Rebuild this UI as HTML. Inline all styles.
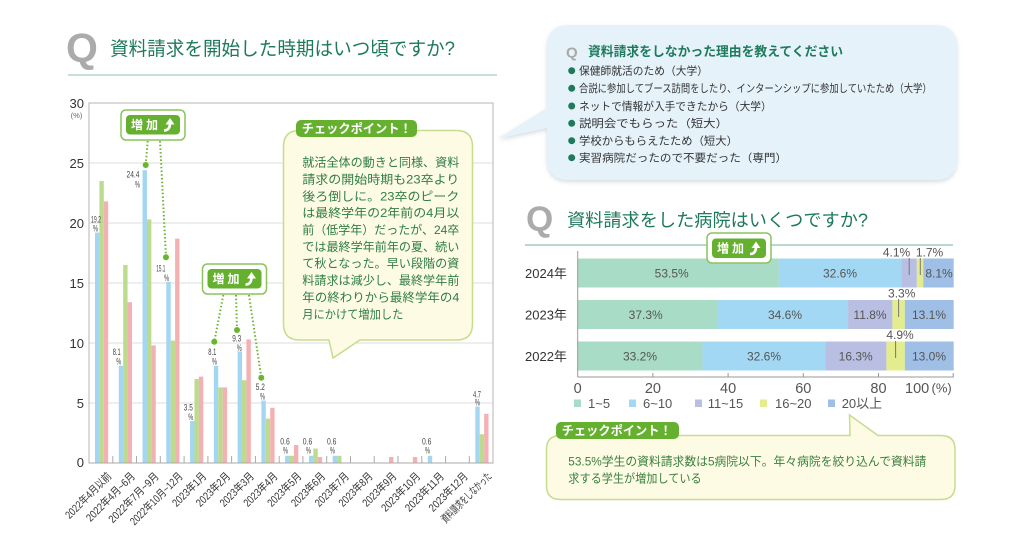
<!DOCTYPE html>
<html><head><meta charset="utf-8"><style>
html,body{margin:0;padding:0;background:#fff;}
svg{display:block;}
text{font-family:"Liberation Sans","Noto Sans CJK JP",sans-serif;}
</style></head><body>
<svg width="1024" height="533" viewBox="0 0 1024 533" xmlns="http://www.w3.org/2000/svg">
<defs>
<filter id="sh" x="-5%" y="-5%" width="110%" height="120%"><feDropShadow dx="0" dy="2" stdDeviation="2" flood-color="#8a9aa5" flood-opacity="0.35"/></filter>
</defs>
<rect width="1024" height="533" fill="#fff"/>

<!-- LEFT TITLE -->
<text x="66" y="62" font-size="41" font-weight="bold" fill="#ababab">Q</text>
<text x="110" y="55" font-size="19" fill="#1f7a5c" textLength="345" lengthAdjust="spacingAndGlyphs">資料請求を開始した時期はいつ頃ですか?</text>
<line x1="68" y1="75" x2="497" y2="75" stroke="#a9cdbf" stroke-width="1.2"/>

<!-- LEFT CHART GRID -->
<g stroke="#dcdcdc" stroke-width="1">
<line x1="89" y1="163" x2="493" y2="163"/>
<line x1="89" y1="223" x2="493" y2="223"/>
<line x1="89" y1="283" x2="493" y2="283"/>
<line x1="89" y1="343" x2="493" y2="343"/>
<line x1="89" y1="403" x2="493" y2="403"/>
</g>
<rect x="89" y="103" width="404" height="360" fill="none" stroke="#b5b5b5" stroke-width="1"/>
<g stroke="#aaa" stroke-width="1">
<line x1="112.8" y1="456" x2="112.8" y2="463"/><line x1="136.5" y1="456" x2="136.5" y2="463"/><line x1="160.3" y1="456" x2="160.3" y2="463"/><line x1="184.1" y1="456" x2="184.1" y2="463"/><line x1="207.9" y1="456" x2="207.9" y2="463"/><line x1="231.6" y1="456" x2="231.6" y2="463"/><line x1="255.4" y1="456" x2="255.4" y2="463"/><line x1="279.2" y1="456" x2="279.2" y2="463"/><line x1="302.9" y1="456" x2="302.9" y2="463"/><line x1="326.7" y1="456" x2="326.7" y2="463"/><line x1="350.5" y1="456" x2="350.5" y2="463"/><line x1="374.2" y1="456" x2="374.2" y2="463"/><line x1="398" y1="456" x2="398" y2="463"/><line x1="421.8" y1="456" x2="421.8" y2="463"/><line x1="445.6" y1="456" x2="445.6" y2="463"/><line x1="469.3" y1="456" x2="469.3" y2="463"/>
</g>

<!-- Y tick labels -->
<g font-size="13" fill="#333" text-anchor="end">
<text x="84" y="108">30</text>
<text x="84" y="168">25</text>
<text x="84" y="228">20</text>
<text x="84" y="288">15</text>
<text x="84" y="348">10</text>
<text x="84" y="408">5</text>
<text x="84" y="467">0</text>
</g>
<text x="76.5" y="118" font-size="7.5" fill="#666" text-anchor="middle">(%)</text>

<!-- BARS: blue -->
<g fill="#a3d6f2">
<rect x="95" y="232.6" width="4.4" height="230.4"/>
<rect x="118.77" y="365.8" width="4.4" height="97.2"/>
<rect x="142.54" y="170.2" width="4.4" height="292.8"/>
<rect x="166.31" y="281.8" width="4.4" height="181.2"/>
<rect x="190.08" y="421" width="4.4" height="42"/>
<rect x="213.85" y="365.8" width="4.4" height="97.2"/>
<rect x="237.62" y="351.4" width="4.4" height="111.6"/>
<rect x="261.39" y="400.6" width="4.4" height="62.4"/>
<rect x="285.16" y="455.8" width="4.4" height="7.2"/>
<rect x="308.93" y="455.8" width="4.4" height="7.2"/>
<rect x="332.7" y="455.8" width="4.4" height="7.2"/>
<rect x="427.78" y="455.8" width="4.4" height="7.2"/>
<rect x="475.32" y="406.6" width="4.4" height="56.4"/>
</g>
<!-- green -->
<g fill="#bddb8c">
<rect x="99.4" y="181" width="4.4" height="282"/>
<rect x="123.17" y="265" width="4.4" height="198"/>
<rect x="146.94" y="219.4" width="4.4" height="243.6"/>
<rect x="170.71" y="340.6" width="4.4" height="122.4"/>
<rect x="194.48" y="379" width="4.4" height="84"/>
<rect x="218.25" y="387.4" width="4.4" height="75.6"/>
<rect x="242.02" y="380.2" width="4.4" height="82.8"/>
<rect x="265.79" y="418.6" width="4.4" height="44.4"/>
<rect x="289.56" y="455.8" width="4.4" height="7.2"/>
<rect x="313.33" y="448.6" width="4.4" height="14.4"/>
<rect x="337.1" y="455.8" width="4.4" height="7.2"/>
<rect x="479.72" y="434.2" width="4.4" height="28.8"/>
</g>
<!-- pink -->
<g fill="#f3b1b3">
<rect x="103.8" y="201.4" width="4.4" height="261.6"/>
<rect x="127.57" y="302.2" width="4.4" height="160.8"/>
<rect x="151.34" y="345.4" width="4.4" height="117.6"/>
<rect x="175.11" y="238.6" width="4.4" height="224.4"/>
<rect x="198.88" y="376.6" width="4.4" height="86.4"/>
<rect x="222.65" y="387.4" width="4.4" height="75.6"/>
<rect x="246.42" y="339.4" width="4.4" height="123.6"/>
<rect x="270.19" y="407.8" width="4.4" height="55.2"/>
<rect x="293.96" y="445" width="4.4" height="18"/>
<rect x="317.73" y="457" width="4.4" height="6"/>
<rect x="389.04" y="457" width="4.4" height="6"/>
<rect x="412.81" y="457" width="4.4" height="6"/>
<rect x="484.12" y="413.8" width="4.4" height="49.2"/>
</g>
<line x1="89" y1="463" x2="493" y2="463" stroke="#aaa" stroke-width="1"/>

<!-- Bar value labels -->
<g font-size="9.5" fill="#444" text-anchor="middle">
<text x="96" y="222.3" textLength="10" lengthAdjust="spacingAndGlyphs">19.2</text><text x="95.5" y="231.5" textLength="5" lengthAdjust="spacingAndGlyphs">%</text>
<text x="116.7" y="355" textLength="8" lengthAdjust="spacingAndGlyphs">8.1</text><text x="118.8" y="364.3" textLength="5" lengthAdjust="spacingAndGlyphs">%</text>
<text x="133" y="177.3" textLength="13" lengthAdjust="spacingAndGlyphs">24.4</text><text x="137.5" y="187.3" textLength="5" lengthAdjust="spacingAndGlyphs">%</text>
<text x="160.8" y="271.6" textLength="9" lengthAdjust="spacingAndGlyphs">15.1</text><text x="166.6" y="281" textLength="5" lengthAdjust="spacingAndGlyphs">%</text>
<text x="188.3" y="410.6" textLength="9" lengthAdjust="spacingAndGlyphs">3.5</text><text x="190.8" y="420" textLength="5" lengthAdjust="spacingAndGlyphs">%</text>
<text x="212.3" y="355" textLength="8" lengthAdjust="spacingAndGlyphs">8.1</text><text x="214.5" y="364.3" textLength="5" lengthAdjust="spacingAndGlyphs">%</text>
<text x="236.7" y="341.6" textLength="9" lengthAdjust="spacingAndGlyphs">9.3</text><text x="239.2" y="351" textLength="5" lengthAdjust="spacingAndGlyphs">%</text>
<text x="260.3" y="390" textLength="9" lengthAdjust="spacingAndGlyphs">5.2</text><text x="262.5" y="399.3" textLength="5" lengthAdjust="spacingAndGlyphs">%</text>
<text x="285" y="444.3" textLength="9.5" lengthAdjust="spacingAndGlyphs">0.6</text><text x="285.5" y="453.3" textLength="5" lengthAdjust="spacingAndGlyphs">%</text>
<text x="307.5" y="444.3" textLength="9.5" lengthAdjust="spacingAndGlyphs">0.6</text><text x="308.5" y="453.3" textLength="5" lengthAdjust="spacingAndGlyphs">%</text>
<text x="331.7" y="444.3" textLength="9.5" lengthAdjust="spacingAndGlyphs">0.6</text><text x="332.5" y="453.3" textLength="5" lengthAdjust="spacingAndGlyphs">%</text>
<text x="426.7" y="444.3" textLength="9.5" lengthAdjust="spacingAndGlyphs">0.6</text><text x="427.5" y="453.3" textLength="5" lengthAdjust="spacingAndGlyphs">%</text>
<text x="477" y="397.3" textLength="8" lengthAdjust="spacingAndGlyphs">4.7</text><text x="477.5" y="405.6" textLength="5" lengthAdjust="spacingAndGlyphs">%</text>
</g>

<!-- X labels -->
<g font-size="11" fill="#333" text-anchor="end">
<text transform="translate(112,477) rotate(-45)" textLength="60" lengthAdjust="spacingAndGlyphs">2022年4月以前</text>
<text transform="translate(135.7,477) rotate(-45)" textLength="64" lengthAdjust="spacingAndGlyphs">2022年4月~6月</text>
<text transform="translate(159.5,477) rotate(-45)" textLength="66" lengthAdjust="spacingAndGlyphs">2022年7月~9月</text>
<text transform="translate(183.3,477) rotate(-45)" textLength="69" lengthAdjust="spacingAndGlyphs">2022年10月~12月</text>
<text transform="translate(207,477) rotate(-45)" textLength="43" lengthAdjust="spacingAndGlyphs">2023年1月</text>
<text transform="translate(230.8,477) rotate(-45)" textLength="43" lengthAdjust="spacingAndGlyphs">2023年2月</text>
<text transform="translate(254.6,477) rotate(-45)" textLength="43" lengthAdjust="spacingAndGlyphs">2023年3月</text>
<text transform="translate(278.3,477) rotate(-45)" textLength="43" lengthAdjust="spacingAndGlyphs">2023年4月</text>
<text transform="translate(302.1,477) rotate(-45)" textLength="43" lengthAdjust="spacingAndGlyphs">2023年5月</text>
<text transform="translate(325.9,477) rotate(-45)" textLength="43" lengthAdjust="spacingAndGlyphs">2023年6月</text>
<text transform="translate(349.6,477) rotate(-45)" textLength="43" lengthAdjust="spacingAndGlyphs">2023年7月</text>
<text transform="translate(373.4,477) rotate(-45)" textLength="43" lengthAdjust="spacingAndGlyphs">2023年8月</text>
<text transform="translate(397.2,477) rotate(-45)" textLength="43" lengthAdjust="spacingAndGlyphs">2023年9月</text>
<text transform="translate(421,477) rotate(-45)" textLength="50" lengthAdjust="spacingAndGlyphs">2023年10月</text>
<text transform="translate(444.7,477) rotate(-45)" textLength="50" lengthAdjust="spacingAndGlyphs">2023年11月</text>
<text transform="translate(468.5,477) rotate(-45)" textLength="50" lengthAdjust="spacingAndGlyphs">2023年12月</text>
<text transform="translate(492.3,477) rotate(-45)" textLength="66" lengthAdjust="spacingAndGlyphs">資料請求をしなかった</text>
</g>

<!-- Badges & dotted lines (left) -->
<g stroke="#6ab42e" stroke-width="2" stroke-dasharray="1.5 2.2" fill="none">
<line x1="147.7" y1="141" x2="145.7" y2="165"/>
<line x1="160" y1="141" x2="166" y2="257"/>
<line x1="223.3" y1="295" x2="214.3" y2="341.7"/>
<line x1="236" y1="295" x2="237" y2="330"/>
<line x1="249" y1="295" x2="261.3" y2="377.7"/>
<line x1="710" y1="264" x2="698.3" y2="272.3"/>
</g>
<g fill="#6ab42e">
<circle cx="145.7" cy="165" r="3"/>
<circle cx="166" cy="257.3" r="3"/>
<circle cx="214.3" cy="341.7" r="3"/>
<circle cx="237" cy="330" r="3"/>
<circle cx="261.3" cy="377.7" r="3"/>
<circle cx="698.3" cy="272.3" r="3"/>
</g>

<!-- Badge 1 -->
<rect x="121" y="110" width="64" height="30" rx="5" fill="#fff" stroke="#8cc35c" stroke-width="1.5"/>
<rect x="126" y="115" width="54" height="19.5" rx="4" fill="#66b030"/>
<text x="131" y="129" font-size="12" font-weight="bold" fill="#fff" letter-spacing="3">増加</text>
<path d="M164,130.5 Q170,130.5 170,123" stroke="#fff" stroke-width="2.6" fill="none"/>
<polygon points="165.5,124.5 170,118 174.5,124.5" fill="#fff"/>
<!-- Badge 2 -->
<rect x="202.5" y="264" width="64" height="30" rx="5" fill="#fff" stroke="#8cc35c" stroke-width="1.5"/>
<rect x="207.5" y="269" width="54" height="19.5" rx="4" fill="#66b030"/>
<text x="212.5" y="283" font-size="12" font-weight="bold" fill="#fff" letter-spacing="3">増加</text>
<path d="M245.5,284.5 Q251.5,284.5 251.5,277" stroke="#fff" stroke-width="2.6" fill="none"/>
<polygon points="247,278.5 251.5,272 256,278.5" fill="#fff"/>

<!-- Left checkpoint bubble -->
<path d="M299.5,130.5 H456.5 Q472.5,130.5 472.5,146.5 V324 Q472.5,340 456.5,340 H360 L333,358 L329,340 H299.5 Q283.5,340 283.5,324 V146.5 Q283.5,130.5 299.5,130.5 Z" fill="#fdfbe3" stroke="#c6dc8e" stroke-width="1.5"/>
<rect x="296" y="120" width="121" height="17" rx="5" fill="#66b030"/>
<text x="301.7" y="133" font-size="12.5" font-weight="bold" fill="#fff" textLength="110" lengthAdjust="spacingAndGlyphs">チェックポイント！</text>
<g font-size="12" fill="#2f7d45">
<text x="302.3" y="166.6" textLength="157" lengthAdjust="spacingAndGlyphs">就活全体の動きと同様、資料</text>
<text x="302.3" y="183.5" textLength="157" lengthAdjust="spacingAndGlyphs">請求の開始時期も23卒より</text>
<text x="302.3" y="200.3" textLength="157" lengthAdjust="spacingAndGlyphs">後ろ倒しに。23卒のピーク</text>
<text x="302.3" y="217.2" textLength="157" lengthAdjust="spacingAndGlyphs">は最終学年の2年前の4月以</text>
<text x="302.3" y="234" textLength="157" lengthAdjust="spacingAndGlyphs">前（低学年）だったが、24卒</text>
<text x="302.3" y="250.9" textLength="157" lengthAdjust="spacingAndGlyphs">では最終学年前年の夏、続い</text>
<text x="302.3" y="267.7" textLength="157" lengthAdjust="spacingAndGlyphs">て秋となった。早い段階の資</text>
<text x="302.3" y="284.6" textLength="157" lengthAdjust="spacingAndGlyphs">料請求は減少し、最終学年前</text>
<text x="302.3" y="301.4" textLength="157" lengthAdjust="spacingAndGlyphs">年の終わりから最終学年の4</text>
<text x="302.3" y="318.3" textLength="101" lengthAdjust="spacingAndGlyphs">月にかけて増加した</text>
</g>

<!-- TOP RIGHT BUBBLE -->
<path d="M569,25 H935 Q957,25 957,47 V158 Q957,180 935,180 H569 Q547,180 547,158 V128 L498,138.5 L547,108 V47 Q547,25 569,25 Z" fill="#e5f2fa" filter="url(#sh)"/>
<text x="566" y="57.5" font-size="15" font-weight="bold" fill="#a9a9a9">Q</text>
<text x="588" y="56" font-size="13" font-weight="bold" fill="#1f7a5c" textLength="255" lengthAdjust="spacingAndGlyphs">資料請求をしなかった理由を教えてください</text>
<g fill="#1f7a5c">
<circle cx="571.7" cy="70.7" r="3.5"/>
<circle cx="571.7" cy="88.3" r="3.5"/>
<circle cx="571.7" cy="106" r="3.5"/>
<circle cx="571.7" cy="123.3" r="3.5"/>
<circle cx="571.7" cy="140.7" r="3.5"/>
<circle cx="571.7" cy="157.7" r="3.5"/>
</g>
<g font-size="11" fill="#333">
<text x="579" y="74.6" textLength="129" lengthAdjust="spacingAndGlyphs">保健師就活のため（大学）</text>
<text x="579" y="92.2" textLength="352.7" lengthAdjust="spacingAndGlyphs">合説に参加してブース訪問をしたり、インターンシップに参加していたため（大学）</text>
<text x="579" y="109.9" textLength="192.7" lengthAdjust="spacingAndGlyphs">ネットで情報が入手できたから（大学）</text>
<text x="579" y="127.2" textLength="149" lengthAdjust="spacingAndGlyphs">説明会でもらった（短大）</text>
<text x="579" y="144.6" textLength="159" lengthAdjust="spacingAndGlyphs">学校からもらえたため（短大）</text>
<text x="579" y="161.6" textLength="208" lengthAdjust="spacingAndGlyphs">実習病院だったので不要だった（専門）</text>
</g>

<!-- RIGHT TITLE -->
<text x="526" y="231" font-size="35" font-weight="bold" fill="#ababab">Q</text>
<text x="567" y="226.5" font-size="18" fill="#1f7a5c" textLength="301" lengthAdjust="spacingAndGlyphs">資料請求をした病院はいくつですか?</text>
<line x1="525" y1="245" x2="953" y2="245" stroke="#8fc0b0" stroke-width="1.2"/>

<!-- RIGHT CHART -->
<g font-size="13" fill="#333">
<text x="525" y="278">2024年</text>
<text x="525" y="319.5">2023年</text>
<text x="525" y="361">2022年</text>
</g>
<!-- 2024 -->
<rect x="577.7" y="258.5" width="201.16" height="29" fill="#a9dcc6"/>
<rect x="778.86" y="258.5" width="122.58" height="29" fill="#a3d8f5"/>
<rect x="901.44" y="258.5" width="15.42" height="29" fill="#b9bfe3"/>
<rect x="916.86" y="258.5" width="6.39" height="29" fill="#e3ec8e"/>
<rect x="923.25" y="258.5" width="30.45" height="29" fill="#9fbfe6"/>
<!-- 2023 -->
<rect x="577.7" y="300" width="140.25" height="29" fill="#a9dcc6"/>
<rect x="717.95" y="300" width="130.1" height="29" fill="#a3d8f5"/>
<rect x="848.05" y="300" width="44.37" height="29" fill="#b9bfe3"/>
<rect x="892.42" y="300" width="12.41" height="29" fill="#e3ec8e"/>
<rect x="904.83" y="300" width="48.87" height="29" fill="#9fbfe6"/>
<!-- 2022 -->
<rect x="577.7" y="341.5" width="124.83" height="29" fill="#a9dcc6"/>
<rect x="702.53" y="341.5" width="122.58" height="29" fill="#a3d8f5"/>
<rect x="825.11" y="341.5" width="61.29" height="29" fill="#b9bfe3"/>
<rect x="886.4" y="341.5" width="18.42" height="29" fill="#e3ec8e"/>
<rect x="904.82" y="341.5" width="48.88" height="29" fill="#9fbfe6"/>

<g font-size="12" fill="#555" text-anchor="middle">
<text x="671.7" y="277.5">53.5%</text>
<text x="840" y="277.5">32.6%</text>
<text x="939" y="277.5">8.1%</text>
<text x="645.7" y="319">37.3%</text>
<text x="785" y="319">34.6%</text>
<text x="870" y="319">11.8%</text>
<text x="929" y="319">13.1%</text>
<text x="640" y="360.5">33.2%</text>
<text x="764" y="360.5">32.6%</text>
<text x="855.7" y="360.5">16.3%</text>
<text x="929" y="360.5">13.0%</text>
<text x="896.5" y="256.5">4.1%</text>
<text x="929.5" y="256.5">1.7%</text>
<text x="901.7" y="297.5">3.3%</text>
<text x="900" y="339">4.9%</text>
</g>
<g stroke="#777" stroke-width="1">
<line x1="909.2" y1="258" x2="909.2" y2="275"/>
<line x1="920.3" y1="258" x2="920.3" y2="275"/>
<line x1="898.6" y1="299" x2="898.6" y2="317"/>
<line x1="895.6" y1="341" x2="895.6" y2="358"/>
</g>
<line x1="577.7" y1="251" x2="577.7" y2="377" stroke="#999" stroke-width="1"/>
<line x1="577.7" y1="377" x2="953.7" y2="377" stroke="#999" stroke-width="1"/>
<g stroke="#999" stroke-width="1">
<line x1="652.9" y1="373" x2="652.9" y2="377"/>
<line x1="728.1" y1="373" x2="728.1" y2="377"/>
<line x1="803.3" y1="373" x2="803.3" y2="377"/>
<line x1="878.5" y1="373" x2="878.5" y2="377"/>
<line x1="953.2" y1="373" x2="953.2" y2="377"/>
</g>
<g font-size="14.5" fill="#555" text-anchor="middle">
<text x="577.7" y="393">0</text>
<text x="652.9" y="393">20</text>
<text x="728.1" y="393">40</text>
<text x="803.3" y="393">60</text>
<text x="878.5" y="393">80</text>
</g>
<text x="905" y="393" font-size="14.5" fill="#555">100</text>
<text x="931.5" y="392.5" font-size="13" fill="#555">(%)</text>

<!-- Legend -->
<rect x="574" y="399.5" width="7" height="7.5" fill="#a9dcc6"/>
<rect x="629" y="399.5" width="7" height="7.5" fill="#a3d8f5"/>
<rect x="695" y="399.5" width="7" height="7.5" fill="#b9bfe3"/>
<rect x="760" y="399.5" width="7" height="7.5" fill="#e3ec8e"/>
<rect x="828" y="399.5" width="7" height="7.5" fill="#9fbfe6"/>
<g font-size="13" fill="#555">
<text x="588" y="408">1~5</text>
<text x="643" y="408">6~10</text>
<text x="707.7" y="408">11~15</text>
<text x="775" y="408">16~20</text>
<text x="841.7" y="408">20以上</text>
</g>

<!-- Right badge -->
<rect x="707" y="233" width="64" height="30" rx="5" fill="#fff" stroke="#8cc35c" stroke-width="1.5"/>
<rect x="712" y="238.5" width="54" height="19.5" rx="4" fill="#66b030"/>
<text x="717" y="252.5" font-size="12" font-weight="bold" fill="#fff" letter-spacing="3">増加</text>
<path d="M750,254 Q756,254 756,246.5" stroke="#fff" stroke-width="2.6" fill="none"/>
<polygon points="751.5,248 756,241.5 760.5,248" fill="#fff"/>

<!-- Bottom-right checkpoint bubble -->
<path d="M560.5,435.5 H850 L849.5,415 L878,435.5 H941 Q955,435.5 955,449.5 V485.5 Q955,499.5 941,499.5 H560.5 Q546.5,499.5 546.5,485.5 V449.5 Q546.5,435.5 560.5,435.5 Z" fill="#fdfbe3" stroke="#c6dc8e" stroke-width="1.5"/>
<rect x="556" y="422" width="123" height="17" rx="5" fill="#66b030"/>
<text x="561.7" y="435" font-size="12.5" font-weight="bold" fill="#fff" textLength="110" lengthAdjust="spacingAndGlyphs">チェックポイント！</text>
<g font-size="12" fill="#3a8040">
<text x="568.3" y="465.3" textLength="358" lengthAdjust="spacingAndGlyphs">53.5%学生の資料請求数は5病院以下。年々病院を絞り込んで資料請</text>
<text x="568.3" y="482.6" textLength="133.4" lengthAdjust="spacingAndGlyphs">求する学生が増加している</text>
</g>
</svg>
</body></html>
